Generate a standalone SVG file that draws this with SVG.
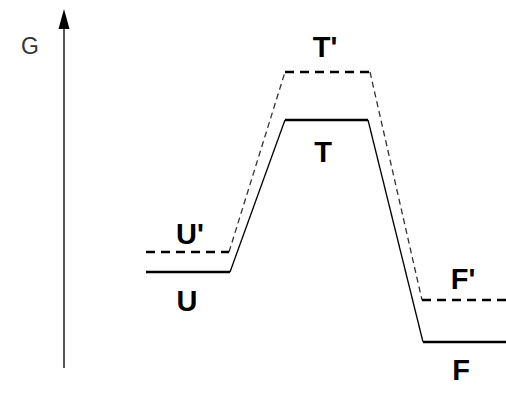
<svg xmlns="http://www.w3.org/2000/svg" width="506" height="394" viewBox="0 0 506 394">
<style>
.lbl{font-family:"Liberation Sans",Arial,sans-serif;font-weight:bold;font-size:29px;fill:#000;text-anchor:middle}
.g{font-family:"Liberation Sans",Arial,sans-serif;font-size:23px;fill:#333}
.lvl{stroke:#000;stroke-width:2.5;fill:none}
.slope{stroke:#000;stroke-width:1.3;fill:none}
.dlvl{stroke:#000;stroke-width:2.5;fill:none;stroke-dasharray:9,6}
.dslope{stroke:#333;stroke-width:1.3;fill:none;stroke-dasharray:6,4}
</style>
<rect width="506" height="394" fill="#fff"/>
<g id="axis">
<line x1="64" y1="368" x2="64" y2="28" stroke="#555" stroke-width="2"/>
<path d="M58.5,29 L64,9 L69.5,29 Z" fill="#000"/>
<text class="g" x="21" y="54">G</text>
</g>
<g id="connectors">
<path class="slope" d="M230,272 L285,120"/>
<path class="slope" d="M368,120 L423,342"/>
<path class="dslope" d="M229,252 L285,72"/>
<path class="dslope" d="M370,72 L422,300"/>
</g>
<g id="U"><line class="lvl" x1="146" y1="272" x2="230" y2="272"/><text class="lbl" x="187" y="311">U</text></g>
<g id="U_prime"><line class="dlvl" x1="146" y1="252" x2="229" y2="252"/><text class="lbl" x="190" y="244">U'</text></g>
<g id="T"><line class="lvl" x1="285" y1="120" x2="368" y2="120"/><text class="lbl" x="323" y="162">T</text></g>
<g id="T_prime"><line class="dlvl" x1="285" y1="72" x2="370" y2="72"/><text class="lbl" x="325" y="57">T'</text></g>
<g id="F"><line class="lvl" x1="423" y1="342" x2="506" y2="342"/><text class="lbl" x="461" y="380">F</text></g>
<g id="F_prime"><line class="dlvl" x1="422" y1="300" x2="506" y2="300"/><text class="lbl" x="463" y="289">F'</text></g>
</svg>
